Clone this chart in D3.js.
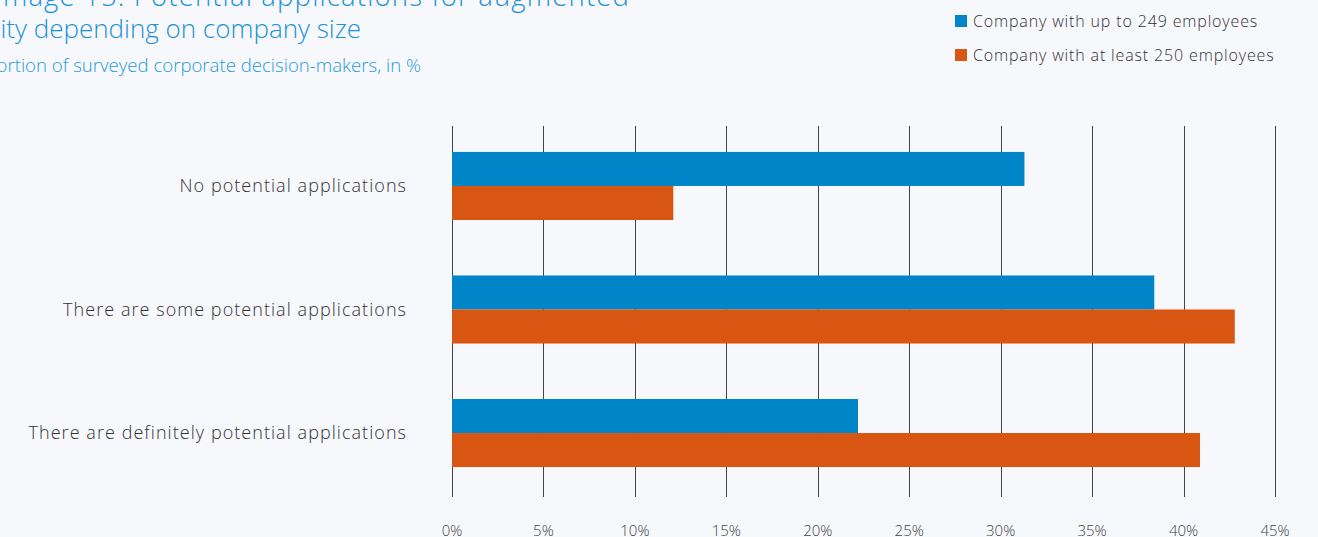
<!DOCTYPE html>
<html>
<head>
<meta charset="utf-8">
<script src="https://cdn.jsdelivr.net/npm/d3@7"></script>
<style>
  body { margin: 0; background: #f6f8fc; }
  svg { display: block; font-family: "Open Sans", "Noto Sans", sans-serif; font-weight: 300; }
</style>
</head>
<body>
<div id="chart"></div>
<script>
// data
var categories = ["No potential applications", "There are some potential applications", "There are definitely potential applications"];
var seriesNames = ["Company with up to 249 employees", "Company with at least 250 employees"];
var small = [31.3, 38.4, 22.2];
var large = [12.1, 42.8, 40.9];
var ticks = [0, 5, 10, 15, 20, 25, 30, 35, 40, 45];
var colors = ["#0085c8", "#d95512"];

var W = 1318, H = 537;

var svg = d3.select("#chart").append("svg")
  .attr("width", W)
  .attr("height", H);

// titles, cut off on the left like the original
svg.append("text")
  .attr("x", 630).attr("y", 6)
  .attr("text-anchor", "end")
  .attr("font-size", 27.5)
  .attr("letter-spacing", 1.15)
  .attr("fill", "#1d92d4")
  .text("Image 15: Potential applications for augmented");
svg.append("text")
  .attr("x", 361).attr("y", 38)
  .attr("text-anchor", "end")
  .attr("font-size", 26)
  .attr("fill", "#1d92d4")
  .text("reality depending on company size");
svg.append("text")
  .attr("x", 421).attr("y", 72)
  .attr("text-anchor", "end")
  .attr("font-size", 18.6)
  .attr("fill", "#2a9ad8")
  .text("Proportion of surveyed corporate decision-makers, in %");

// x scale
var x = d3.scaleLinear().domain([0, 45]).range([452, 1275]);

// category band
var y = d3.scaleBand()
  .domain(categories)
  .range([126, 493])
  .paddingInner(0.449)
  .paddingOuter(0.21);

var inner = d3.scaleBand()
  .domain([0, 1])
  .range([0, y.bandwidth()]);

// gridlines
svg.append("g")
  .selectAll("line")
  .data(ticks)
  .enter().append("line")
  .attr("x1", function(d) { return Math.round(x(d)) + 0.5; })
  .attr("x2", function(d) { return Math.round(x(d)) + 0.5; })
  .attr("y1", 126)
  .attr("y2", 497)
  .attr("stroke", "#444")
  .attr("stroke-width", 1);

// tick labels
svg.append("g")
  .selectAll("text")
  .data(ticks)
  .enter().append("text")
  .attr("x", function(d) { return x(d); })
  .attr("y", 536)
  .attr("text-anchor", "middle")
  .attr("font-size", 15)
  .attr("fill", "#444")
  .text(function(d) { return d + "%"; });

// bars
var rows = categories.map(function(c, i) { return {cat: c, vals: [small[i], large[i]]}; });

var grp = svg.append("g").selectAll("g")
  .data(rows)
  .enter().append("g")
  .attr("transform", function(d) { return "translate(0," + y(d.cat) + ")"; });

grp.selectAll("rect")
  .data(function(d) { return d.vals; })
  .enter().append("rect")
  .attr("x", x(0))
  .attr("y", function(d, i) { return inner(i); })
  .attr("width", function(d) { return x(d) - x(0); })
  .attr("height", inner.bandwidth())
  .attr("fill", function(d, i) { return colors[i]; });

// category labels
grp.append("text")
  .attr("x", 407)
  .attr("y", y.bandwidth() / 2)
  .attr("dy", "0.35em")
  .attr("text-anchor", "end")
  .attr("font-size", 18)
  .attr("letter-spacing", 1.05)
  .attr("fill", "#333")
  .text(function(d) { return d.cat; });

// legend
var legend = svg.append("g")
  .selectAll("g")
  .data(seriesNames)
  .enter().append("g")
  .attr("transform", function(d, i) { return "translate(955," + (15 + i * 34) + ")"; });

legend.append("rect")
  .attr("width", 12)
  .attr("height", 12)
  .attr("fill", function(d, i) { return colors[i]; });

legend.append("text")
  .attr("x", 18)
  .attr("y", 6)
  .attr("dy", "0.35em")
  .attr("font-size", 16)
  .attr("letter-spacing", 0.85)
  .attr("fill", "#333")
  .text(function(d) { return d; });
</script>
</body>
</html>
